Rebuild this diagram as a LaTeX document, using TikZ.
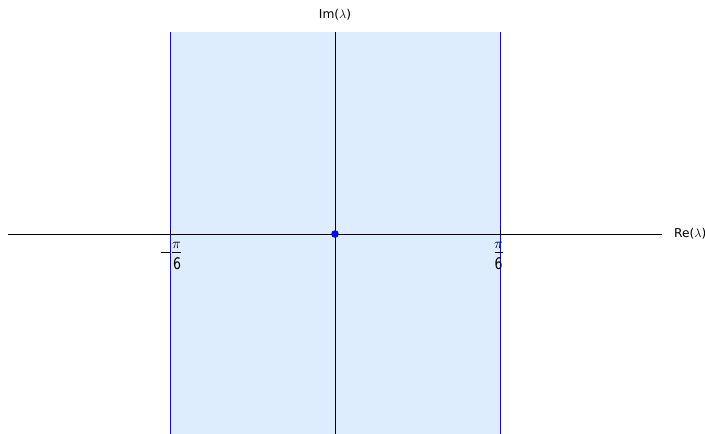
\documentclass[tikz,border=0pt]{standalone}
\usepackage{fontspec}
\setmainfont{DejaVu Sans}
\usepackage{tikz}
\usetikzlibrary{arrows.meta, positioning, calc}
\definecolor{StripFill}{RGB}{222, 237, 253}
\definecolor{EdgeBlue}{RGB}{10, 10, 240}

\tikzset{
    pilabel/.style={inner sep=0pt, scale=1.45, transform shape},
    sixlabel/.style={inner sep=0pt, xscale=1.25, yscale=1.6, transform shape},
    axislabel/.style={inner sep=0pt, scale=1.22, transform shape},
}

\begin{document}
\begin{tikzpicture}[x=1pt, y=1pt, font=\fontsize{10}{12}\selectfont]
        \useasboundingbox (0,0) rectangle (705,434);
        % Strip
        \coordinate (o) at (335,200);
        \coordinate (lb) at (170,0);
        \coordinate (lt) at (170,402);
        \coordinate (rb) at (500,0);
        \coordinate (rt) at (500,402);
        \fill[StripFill] (lb) rectangle (rt);
        \draw[EdgeBlue, line width=1pt] (lb) -- (lt);
        \draw[EdgeBlue, line width=1pt] (rb) -- (rt);

        % Axes
        \coordinate (xl) at (8,200);
        \coordinate (xr) at (662,200);
        \coordinate (yb) at (335,0);
        \coordinate (yt) at (335,402);
        \draw[line width=0.8pt] (xl) -- (xr);
        \draw[line width=0.8pt] (yb) -- (yt);
        \node[axislabel, anchor=west] (re) at (674,200) {Re($\lambda$)};
        \node[axislabel] (im) at (335,419) {Im($\lambda$)};

        % Ticks
        \foreach \x in {170, 500} {
            \draw[line width=0.8pt] (\x,200) -- (\x,204);
        }
        % -pi/6
        \node[pilabel] (mpi) at (176.5,189) {$\pi$};
        \node[sixlabel] (msix) at (177,170.5) {6};
        \draw[line width=0.8pt] (172,182) -- (181,182);
        \draw[line width=0.8pt] (161,182) -- (169.5,182);
        % pi/6
        \node[pilabel] (ppi) at (498.5,189) {$\pi$};
        \node[sixlabel] (psix) at (498.5,170.5) {6};
        \draw[line width=0.8pt] (494.5,181.5) -- (502.5,181.5);

        \fill[EdgeBlue] (o) circle (3.8);
    \end{tikzpicture}
\end{document}
